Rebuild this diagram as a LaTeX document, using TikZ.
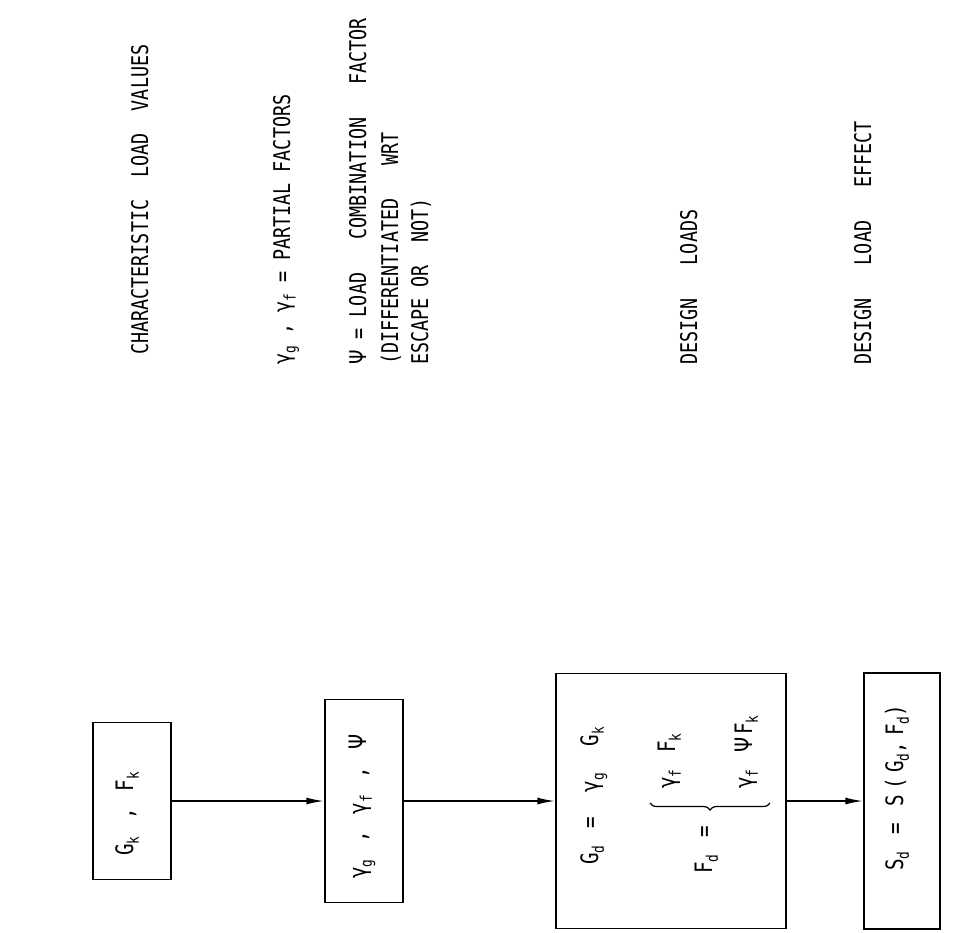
\documentclass[tikz,border=0pt]{standalone}
\usepackage{fontspec}
\newfontfamily\plotfont{DejaVu Sans Mono}[FakeStretch=0.8]
\newfontfamily\boxfont{DejaVu Sans Mono}[FakeStretch=0.8,LetterSpace=22]
\newfontfamily\grkfont{DejaVu Sans}[FakeStretch=0.8]
\usetikzlibrary{arrows.meta,decorations.pathreplacing}
\newcommand{\lsub}[1]{\raisebox{-0.45ex}{\fontsize{16}{16}\selectfont #1}}
\newcommand{\Psym}{{\grkfont Ψ}}
\begin{document}
\begin{tikzpicture}[x=1pt,y=-1pt,
  lbl/.style={rotate=90,anchor=base west,inner sep=0pt,font=\plotfont\fontsize{23}{23}\selectfont},
  boxtxt/.style={rotate=90,anchor=base west,inner sep=0pt,font=\boxfont\fontsize{24}{24}\selectfont},
  frame/.style={draw,line width=1.4pt,rotate=90,inner sep=0pt},
  conn/.style={line width=1.8pt,-{Latex[length=18pt,width=7pt]}}]
\useasboundingbox (0,0) rectangle (955,932);
% side labels
\node[lbl] (l1) at (148,355) {CHARACTERISTIC~~LOAD~~VALUES};
\node[lbl] (l2) at (290,365) {γ\lsub{g} , γ\lsub{f} = PARTIAL~FACTORS};
\node[lbl] (l3) at (366,365) {\Psym\ = LOAD~~~COMBINATION~~~FACTOR};
\node[lbl] (l4) at (398,365) {(DIFFERENTIATED~~~WRT};
\node[lbl] (l5) at (428,365) {ESCAPE~OR~~NOT)};
\node[lbl] (l6) at (697,365) {DESIGN~~~LOADS};
\node[lbl] (l7) at (871,365) {DESIGN~~~LOAD~~~EFFECT};
% boxes
\node[frame,minimum width=157pt,minimum height=78pt] (b1) at (132,801) {};
\node[frame,minimum width=203pt,minimum height=78pt] (b2) at (364,801) {};
\node[frame,minimum width=255pt,minimum height=230pt] (b3) at (671,801) {};
\node[frame,minimum width=256pt,minimum height=76pt] (b4) at (902,801) {};
% box texts
\node[boxtxt] (t1) at (133,856) {G\lsub{k} , F\lsub{k}};
\node[boxtxt] (t2) at (366,879) {γ\lsub{g} , γ\lsub{f} , \Psym};
\node[boxtxt] (t3a) at (598,865) {G\lsub{d} = \hspace{8pt}γ\lsub{g} \hspace{10pt}G\lsub{k}};
\node[boxtxt] (t3b) at (712,874) {F\lsub{d} =};
\node[boxtxt] (t3c) at (675,789) {γ\lsub{f} F\lsub{k}};
\node[boxtxt] (t3d) at (752,789) {γ\lsub{f} \Psym\hspace{3pt}F\lsub{k}};
\coordinate (br1) at (770,803);
\coordinate (br2) at (650,803);
\draw[line width=1.2pt,decorate,decoration={brace,amplitude=7pt}] (br1) -- (br2);
\node[boxtxt] (t4) at (903,871) {S\lsub{d} = S(G\lsub{d},\hspace{6pt}F\lsub{d})};
% connectors
\draw[conn] (b1.south) -- (b2.north);
\draw[conn] (b2.south) -- (b3.north);
\draw[conn] (b3.south) -- (b4.north);
\end{tikzpicture}
\end{document}
